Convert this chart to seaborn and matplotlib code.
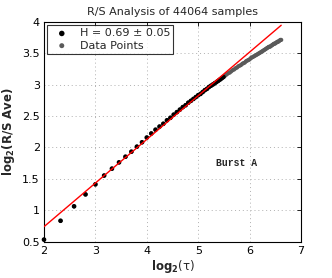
import numpy as np
import pandas as pd
import matplotlib
matplotlib.use("Agg")
import matplotlib.pyplot as plt
import seaborn as sns

# ---- data ----
tau = list(range(4, 99))
rs_log = [0.53, 0.83, 1.06, 1.25, 1.41, 1.55, 1.66, 1.76, 1.85, 1.93,
          2.01, 2.08, 2.155, 2.22, 2.28, 2.33, 2.375, 2.43, 2.47, 2.52,
          2.56, 2.60, 2.64, 2.67, 2.71, 2.74, 2.77, 2.80, 2.83, 2.85,
          2.88, 2.91, 2.93, 2.96, 2.98, 3.00, 3.02, 3.04, 3.06, 3.08,
          3.10, 3.12, 3.14, 3.16, 3.18, 3.19, 3.21, 3.23, 3.24, 3.26,
          3.27, 3.29, 3.30, 3.31, 3.33, 3.34, 3.35, 3.37, 3.38, 3.39,
          3.40, 3.42, 3.43, 3.44, 3.45, 3.46, 3.47, 3.48, 3.49, 3.50,
          3.51, 3.52, 3.53, 3.54, 3.55, 3.56, 3.57, 3.58, 3.59, 3.60,
          3.60, 3.61, 3.62, 3.63, 3.64, 3.65, 3.65, 3.66, 3.67, 3.68,
          3.68, 3.69, 3.70, 3.71, 3.71]
fit_tau_max = 45
fit_slope = 0.695
fit_intercept = -0.654
x_ticks = [2, 3, 4, 5, 6, 7]
y_ticks = [0.5, 1, 1.5, 2, 2.5, 3, 3.5, 4]
y_tick_labels = ["0.5", "1", "1.5", "2", "2.5", "3", "3.5", "4"]
title = "R/S Analysis of 44064 samples"
legend_fit = "H = 0.69 ± 0.05"
legend_data = "Data Points"
annotation = "Burst A"

df = pd.DataFrame({"tau": tau, "y": rs_log})
df["x"] = np.log2(df["tau"])
fit_df = df[df["tau"] <= fit_tau_max]
line_df = pd.DataFrame({"x": [df["x"].min(), df["x"].max()]})
line_df["y"] = fit_slope * line_df["x"] + fit_intercept

sns.set_style("white")
plt.rcParams["font.family"] = ["DejaVu Sans"]

fig = plt.figure(figsize=(3.32, 2.78), dpi=100)
ax = fig.add_axes([44 / 332, 1 - 241.5 / 278, (301 - 44) / 332, (241.5 - 21.7) / 278])

sns.scatterplot(data=df, x="x", y="y", ax=ax, color="#5a5a5a", s=9,
                edgecolor="none", label=legend_data, zorder=2, clip_on=False)
sns.scatterplot(data=fit_df, x="x", y="y", ax=ax, color="black", s=11,
                edgecolor="none", label=legend_fit, zorder=3, clip_on=False)
sns.lineplot(data=line_df, x="x", y="y", ax=ax, color="red", linewidth=1.0,
             zorder=4, legend=False)

ax.set_xlim(2, 7)
ax.set_ylim(0.5, 4)
ax.set_xticks(x_ticks)
ax.set_xticklabels([str(t) for t in x_ticks])
ax.set_yticks(y_ticks)
ax.set_yticklabels(y_tick_labels)
ax.tick_params(direction="in", length=3, width=0.6, top=True, right=True,
               labelsize=8, colors="black", pad=3)
ax.grid(True, linestyle=(0, (1, 3)), color="#b0b0b0", linewidth=0.7)
for s in ax.spines.values():
    s.set_visible(True)
    s.set_color("black")
    s.set_linewidth(0.8)

ax.set_title(title, fontsize=8, pad=5)
ax.set_xlabel(r"$\mathbf{log_2}$(τ)", fontsize=8.5, fontweight="normal", labelpad=2)
ax.set_ylabel(r"$\mathbf{log_2(R/S\ Ave)}$", fontsize=8.5, fontweight="bold", labelpad=4)

ax.text(5.75, 1.75, annotation, family="Liberation Mono", fontweight="bold",
        fontsize=7, ha="center", va="center")

handles, labels = ax.get_legend_handles_labels()
order = [labels.index(legend_fit), labels.index(legend_data)]
leg = ax.legend([handles[i] for i in order], [labels[i] for i in order],
                loc="upper left", fontsize=8, frameon=True, fancybox=False,
                edgecolor="black", borderaxespad=0.3, handletextpad=0.6,
                borderpad=0.3, labelspacing=0.2, handlelength=2.0,
                markerscale=1.2)
leg.get_frame().set_linewidth(0.8)

fig.savefig("out.png", dpi=100)
